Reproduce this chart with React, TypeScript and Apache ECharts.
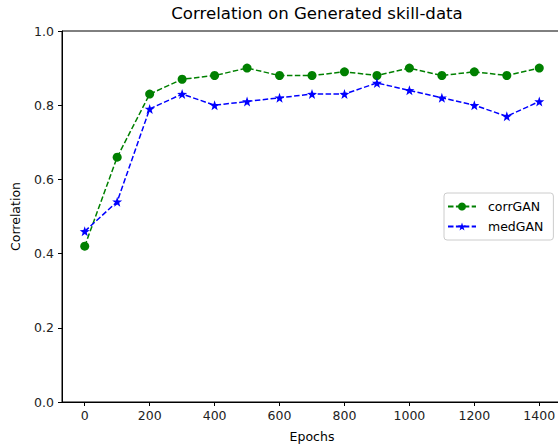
import React, { useEffect, useRef } from "react";
import * as echarts from "echarts";

const epochs = [0, 100, 200, 300, 400, 500, 600, 700, 800, 900, 1000, 1100, 1200, 1300, 1400];
const corrGAN = [0.42, 0.66, 0.83, 0.87, 0.88, 0.9, 0.88, 0.88, 0.89, 0.88, 0.9, 0.88, 0.89, 0.88, 0.9];
const medGAN = [0.46, 0.54, 0.79, 0.83, 0.8, 0.81, 0.82, 0.83, 0.83, 0.86, 0.84, 0.82, 0.8, 0.77, 0.81];
const xTicks = [0, 200, 400, 600, 800, 1000, 1200, 1400];
const seriesNames = ["corrGAN", "medGAN"];
const titleText = "Correlation on Generated skill-data";

function starPath(): string {
  const pts: string[] = [];
  for (let i = 0; i < 10; i++) {
    const r = i % 2 === 0 ? 50 : 20;
    const a = -Math.PI / 2 + (i * Math.PI) / 5;
    pts.push(`${(50 + r * Math.cos(a)).toFixed(2)} ${(50 + r * Math.sin(a)).toFixed(2)}`);
  }
  return "path://M" + pts.join(" L") + " Z";
}

export default function App() {
  const ref = useRef<HTMLDivElement>(null);
  useEffect(() => {
    if (!ref.current) return;
    const chart = echarts.init(ref.current, undefined, { renderer: "svg" });
    const font = "DejaVu Sans";
    const pair = (ys: number[]) => epochs.map((x, i) => [x, ys[i]]);
    chart.setOption({
      animation: false,
      backgroundColor: "#ffffff",
      title: {
        text: titleText,
        left: 312,
        textAlign: "center",
        top: 0,
        textStyle: { fontFamily: font, fontSize: 16.6, fontWeight: "normal", color: "#000" },
      },
      grid: {
        left: 62,
        top: 31,
        width: 500,
        height: 373,
        show: true,
        borderColor: "#000",
        borderWidth: 1,
        backgroundColor: "transparent",
      },
      legend: {
        orient: "vertical",
        left: 444,
        top: 193,
        itemWidth: 28,
        itemHeight: 10,
        itemGap: 7,
        padding: [7, 10, 7, 3],
        borderColor: "#cccccc",
        borderWidth: 1,
        borderRadius: 3,
        backgroundColor: "#fff",
        textStyle: { fontFamily: font, fontSize: 12.5, color: "#000", padding: [0, 0, 0, 7] },
        data: seriesNames,
      },
      xAxis: {
        type: "value",
        min: -70,
        max: 1470,
        name: "Epochs",
        nameLocation: "middle",
        nameGap: 28,
        nameTextStyle: { fontFamily: font, fontSize: 12.5, color: "#000" },
        axisLine: { show: true, onZero: false, lineStyle: { color: "#000", width: 1 } },
        axisTick: { show: true, length: 4, lineStyle: { color: "#000" }, customValues: xTicks },
        axisLabel: {
          fontFamily: font,
          fontSize: 12.5,
          color: "#222",
          margin: 7,
          customValues: xTicks,
          formatter: (v: number) => String(v),
        },
        splitLine: { show: false },
      },
      yAxis: {
        type: "value",
        min: 0,
        max: 1,
        interval: 0.2,
        name: "Correlation",
        nameLocation: "middle",
        nameGap: 40,
        nameTextStyle: { fontFamily: font, fontSize: 12.5, color: "#000" },
        axisLine: { show: true, onZero: false, lineStyle: { color: "#000", width: 1 } },
        axisTick: { show: true, length: 4, lineStyle: { color: "#000" } },
        axisLabel: {
          fontFamily: font,
          fontSize: 12.5,
          color: "#222",
          margin: 8,
          formatter: (v: number) => v.toFixed(1),
        },
        splitLine: { show: false },
      },
      series: [
        {
          name: seriesNames[0],
          type: "line",
          data: pair(corrGAN),
          symbol: "circle",
          symbolSize: 9,
          itemStyle: { color: "#008000" },
          lineStyle: { color: "#008000", width: 1.5, type: [5.5, 2.4] },
        },
        {
          name: seriesNames[1],
          type: "line",
          data: pair(medGAN),
          symbol: starPath(),
          symbolSize: 10,
          itemStyle: { color: "#0000ff" },
          lineStyle: { color: "#0000ff", width: 1.5, type: [5.5, 2.4] },
        },
      ],
    });
    return () => chart.dispose();
  }, []);
  return (
    <div style={{ position: "fixed", left: 0, top: 0, width: 558, height: 448, overflow: "hidden", background: "#fff" }}>
      <div ref={ref} style={{ width: 570, height: 448 }} />
    </div>
  );
}
